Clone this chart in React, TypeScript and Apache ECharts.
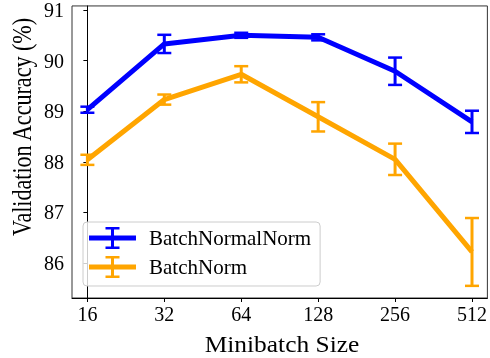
import React, { useEffect, useRef } from "react";
import * as echarts from "echarts";

const batchSizes = ["16", "32", "64", "128", "256", "512"];
const bnnMean = [89.03, 90.33, 90.5, 90.46, 89.79, 88.79];
const bnnErr = [0.06, 0.18, 0.05, 0.06, 0.27, 0.22];
const bnMean = [88.04, 89.23, 89.73, 88.89, 88.05, 86.22];
const bnErr = [0.1, 0.1, 0.16, 0.29, 0.31, 0.67];
const yTicks = [86, 87, 88, 89, 90, 91];
const seriesNames = ["BatchNormalNorm", "BatchNorm"];
const colors = ["#0000ff", "#ffa500"];

const FONT = "'Liberation Serif', 'Times New Roman', serif";
const ICON =
  "path://M0 8.5H47V13.5H0Z M22 0H25V22H22Z M16.5 0H30.5V2.5H16.5Z M16.5 19.5H30.5V22H16.5Z M55 11H55.01V11.01H55Z";

function errRender(color: string) {
  return (params: any, api: any) => {
    const x = api.value(0);
    const lo = api.value(1);
    const hi = api.value(2);
    const pLo = api.coord([x, lo]);
    const pHi = api.coord([x, hi]);
    const hw = 7;
    return {
      type: "group",
      children: [
        {
          type: "line",
          shape: { x1: pLo[0], y1: pLo[1], x2: pHi[0], y2: pHi[1] },
          style: { stroke: color, lineWidth: 3 },
        },
        {
          type: "line",
          shape: { x1: pHi[0] - hw, y1: pHi[1], x2: pHi[0] + hw, y2: pHi[1] },
          style: { stroke: color, lineWidth: 2.5 },
        },
        {
          type: "line",
          shape: { x1: pLo[0] - hw, y1: pLo[1], x2: pLo[0] + hw, y2: pLo[1] },
          style: { stroke: color, lineWidth: 2.5 },
        },
      ],
    };
  };
}

export default function App() {
  const ref = useRef<HTMLDivElement>(null);
  useEffect(() => {
    if (!ref.current) return;
    const chart = echarts.init(ref.current, undefined, { renderer: "svg" });
    const means = [bnnMean, bnMean];
    const errs = [bnnErr, bnErr];
    const series: any[] = [];
    seriesNames.forEach((name, k) => {
      series.push({
        name,
        type: "line",
        data: means[k].map((v, i) => [i, v]),
        symbol: "none",
        color: colors[k],
        lineStyle: { color: colors[k], width: 5 },
        itemStyle: { color: colors[k] },
        z: 2 + k * 2,
      });
      series.push({
        name,
        type: "custom",
        renderItem: errRender(colors[k]),
        data: means[k].map((v, i) => [i, v - errs[k][i], v + errs[k][i]]),
        encode: { x: 0, y: [1, 2] },
        z: 3 + k * 2,
      });
    });
    chart.setOption({
      animation: false,
      grid: {
        left: 72,
        top: 5,
        width: 419,
        height: 293,
        show: true,
        borderColor: "#333",
        borderWidth: 1,
      },
      xAxis: {
        type: "value",
        min: -0.2,
        max: 5.2,
        splitLine: { show: false },
        axisLine: { lineStyle: { color: "#000", width: 1 } },
        axisTick: {
          show: true,
          length: 4,
          customValues: batchSizes.map((_, i) => i),
          lineStyle: { color: "#000" },
        },
        axisLabel: {
          customValues: batchSizes.map((_, i) => i),
          formatter: (v: number) => batchSizes[Math.round(v)],
          fontSize: 20,
          fontFamily: FONT,
          color: "#000",
          margin: 6,
        },
      },
      yAxis: {
        type: "value",
        min: 85.31,
        max: 91.08,
        splitLine: { show: false },
        axisLine: { show: true, lineStyle: { color: "#000", width: 1 } },
        axisTick: {
          show: true,
          length: 4,
          customValues: yTicks,
          lineStyle: { color: "#000" },
        },
        axisLabel: {
          customValues: yTicks,
          fontSize: 20,
          fontFamily: FONT,
          color: "#000",
          margin: 8,
        },
      },
      legend: {
        orient: "vertical",
        left: 83,
        top: 222,
        data: seriesNames.map((n) => ({ name: n, icon: ICON })),
        itemWidth: 55,
        itemHeight: 22,
        itemGap: 7,
        padding: [5, 9, 8, 6],
        borderColor: "#cccccc",
        borderWidth: 1,
        borderRadius: 4,
        backgroundColor: "rgba(255,255,255,0.8)",
        itemStyle: { borderWidth: 0 },
        textStyle: { fontSize: 21, fontFamily: FONT, color: "#000" },
      },
      graphic: [
        {
          type: "text",
          x: 22,
          y: 127,
          rotation: Math.PI / 2,
          scaleX: 0.92,
          scaleY: 1.15,
          style: {
            text: "Validation Accuracy (%)",
            fontSize: 24,
            fontFamily: FONT,
            fill: "#000",
            align: "center",
            verticalAlign: "middle",
          },
        },
        {
          type: "text",
          x: 282,
          y: 344,
          scaleX: 1.06,
          style: {
            text: "Minibatch Size",
            fontSize: 24,
            fontFamily: FONT,
            fill: "#000",
            align: "center",
            verticalAlign: "middle",
          },
        },
      ],
      series,
    });
    return () => chart.dispose();
  }, []);
  return (
    <div
      ref={ref}
      style={{ position: "fixed", left: 0, top: 0, width: 490, height: 358 }}
    />
  );
}
